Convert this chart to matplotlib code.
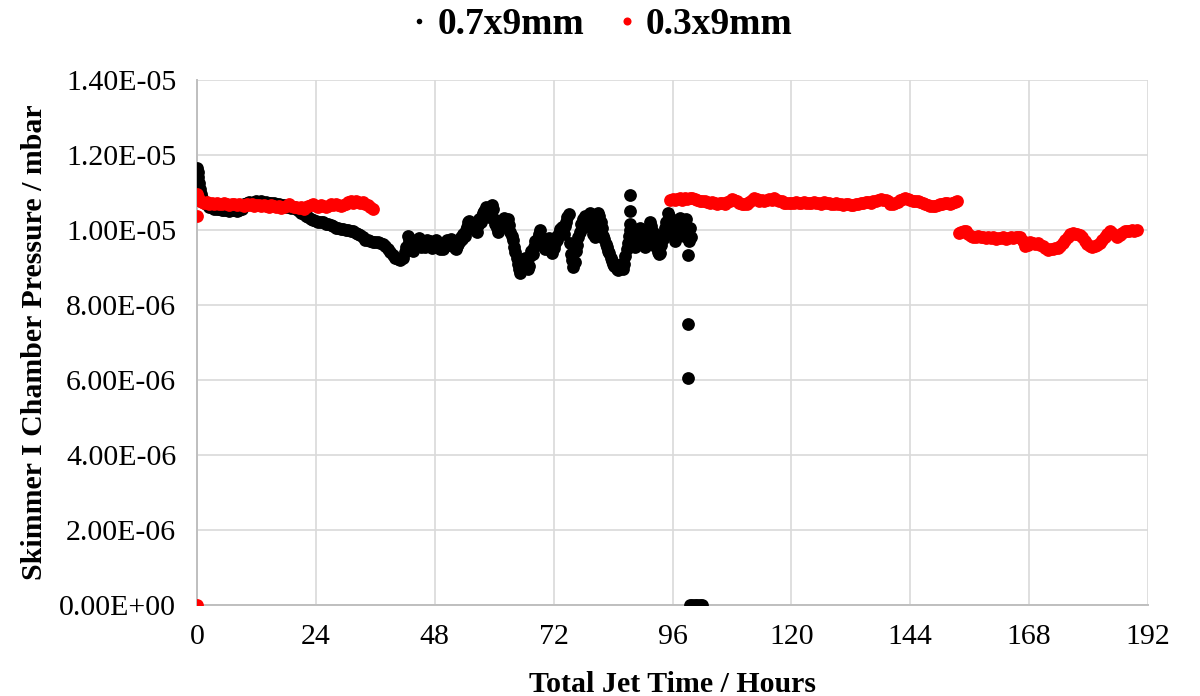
import matplotlib
matplotlib.use("Agg")
import numpy as np
import matplotlib.pyplot as plt
from matplotlib.lines import Line2D
from matplotlib.ticker import FuncFormatter

plt.rcParams["font.family"] = ["Liberation Serif", "DejaVu Serif"]

# Skimmer I chamber pressure (units of 1e-6 mbar) against total jet time (hours)
series_labels = ["0.7x9mm", "0.3x9mm"]

# ---- 0.7x9mm nozzle ----
# start-up transient
black_start_hours = [0.0, 0.1, 0.2, 0.35, 0.5, 0.7, 1.0, 1.4, 1.9, 2.5]
black_start_p = [11.65, 11.55, 11.40, 11.25, 11.10, 10.95, 10.85, 10.75, 10.68, 10.62]

# slow drift, sampled every 0.5 h from 3.0 h
black_drift_start, black_drift_step = 3.0, 0.5
black_drift_p = [
    10.60, 10.57, 10.55, 10.56, 10.53, 10.52, 10.54, 10.51, 10.52, 10.53, 10.50, 10.52, 10.56,
    10.68, 10.72, 10.75, 10.73, 10.74, 10.77, 10.74, 10.76, 10.72, 10.75, 10.73, 10.71,
    10.72, 10.70, 10.69, 10.66, 10.67, 10.62, 10.63, 10.58, 10.60, 10.55,
    10.50, 10.46, 10.42, 10.38, 10.34, 10.30, 10.27, 10.24, 10.22, 10.20,
    10.21, 10.17, 10.15, 10.12, 10.10, 10.06, 10.04, 10.02, 10.03, 10.00,
    9.99, 9.97, 9.96, 9.92, 9.90, 9.86, 9.80, 9.74, 9.72, 9.70,
    9.69, 9.67, 9.68, 9.64, 9.62, 9.58, 9.50, 9.40, 9.32, 9.25,
    9.22, 9.20, 9.24,
]

# fluctuating period, sampled every 0.25 h from 42.0 h
black_noisy_start, black_noisy_step = 42.0, 0.25
black_noisy_p = [
    9.40, 9.55, 9.85, 9.70, 9.55, 9.48, 9.45, 9.52,
    9.62, 9.72, 9.68, 9.78, 9.62, 9.55, 9.60, 9.68,
    9.55, 9.66, 9.72, 9.60, 9.70, 9.58, 9.52, 9.64,
    9.60, 9.72, 9.66, 9.58, 9.50, 9.62, 9.55, 9.48,
    9.56, 9.68, 9.72, 9.60, 9.66, 9.76, 9.70, 9.58,
    9.52, 9.50, 9.56, 9.62, 9.70, 9.80, 9.75, 9.88,
    9.85, 10.00, 10.08, 10.20, 10.25, 10.15, 10.05, 10.18,
    10.10, 9.98, 9.95, 10.12, 10.28, 10.20, 10.38, 10.45,
    10.50, 10.62, 10.55, 10.40, 10.35, 10.48, 10.67, 10.55,
    10.30, 10.15, 10.05, 9.95, 10.02, 10.15, 10.25, 10.20,
    10.32, 10.28, 10.22, 10.30, 10.12, 9.95, 9.85, 9.72,
    9.55, 9.40, 9.25, 9.10, 8.95, 8.85, 8.92, 9.05,
    9.15, 9.25, 9.10, 8.95, 9.05, 9.30, 9.45, 9.35,
    9.55, 9.70, 9.62, 9.78, 9.88, 10.00, 9.80, 9.65,
    9.55, 9.48, 9.62, 9.70, 9.78, 9.60, 9.45, 9.38,
    9.52, 9.65, 9.80, 9.72, 9.92, 10.02, 9.95, 10.08,
    9.88, 10.10, 10.20, 10.35, 10.42, 9.65, 9.35, 9.20,
    9.00, 9.15, 9.45, 9.60, 9.82, 9.95, 10.15, 10.05,
    10.30, 10.38, 10.22, 10.10, 10.35, 10.45, 10.20, 10.05,
    9.90, 9.80, 10.15, 10.30, 10.45, 10.38, 10.20, 10.05,
    9.85, 9.75, 9.62, 9.55, 9.45, 9.38, 9.25, 9.18,
    9.10, 9.05, 9.00, 8.95, 8.92, 9.00, 9.08, 8.98,
    8.95, 9.10, 9.30, 9.50, 9.65, 9.85, 10.00, 9.82,
    9.70, 9.62, 9.55, 9.68, 9.80, 9.92, 10.05, 9.90,
    9.75, 9.60, 9.55, 9.72, 9.88, 10.05, 10.22, 10.10,
    9.95, 9.82, 9.70, 9.55, 9.42, 9.35, 9.38, 9.60,
    9.75, 9.92, 10.05, 10.20, 10.45, 10.38, 10.25, 10.30,
    10.05, 9.85, 9.70, 9.90, 10.10, 10.25, 10.32, 10.15,
    9.90, 9.85, 10.20, 10.28, 9.95, 9.70, 10.05, 9.80,
]

# isolated readings: spikes, pump-down and gauge zeros
black_extra_hours = [87.4, 87.4, 87.4, 99.1, 99.1, 99.1, 99.5, 100.0, 100.5, 101.0, 101.5, 102.0]
black_extra_p = [10.93, 10.50, 10.15, 9.33, 7.50, 6.05, 0.0, 0.0, 0.0, 0.0, 0.0, 0.0]

# ---- 0.3x9mm nozzle ----
red_start_hours = [0.0, 0.0, 0.0, 0.1, 0.25]
red_start_p = [0.0, 10.38, 10.95, 10.88, 10.82]

red_run1_start, red_run1_step = 0.5, 0.5
red_run1_p = [
    10.78, 10.75, 10.72, 10.74, 10.70, 10.72, 10.69, 10.71,
    10.70, 10.68, 10.71, 10.69, 10.67, 10.70, 10.68, 10.66,
    10.69, 10.67, 10.65, 10.68, 10.66, 10.69, 10.64, 10.67,
    10.66, 10.63, 10.67, 10.65, 10.62, 10.66, 10.64, 10.61,
    10.63, 10.58, 10.62, 10.65, 10.68, 10.64, 10.60, 10.62,
    10.58, 10.61, 10.57, 10.60, 10.63, 10.66, 10.68, 10.64,
    10.62, 10.66, 10.63, 10.60, 10.65, 10.69, 10.67, 10.70,
    10.66, 10.63, 10.67, 10.70, 10.74, 10.76, 10.72, 10.78,
    10.74, 10.71, 10.75, 10.70, 10.66, 10.62, 10.57,
]

red_run2_start, red_run2_step = 95.5, 0.5
red_run2_p = [
    10.80, 10.82, 10.79, 10.83, 10.84, 10.81, 10.85, 10.83,
    10.84, 10.86, 10.82, 10.80, 10.78, 10.76, 10.77, 10.75,
    10.73, 10.75, 10.72, 10.70, 10.71, 10.73, 10.70, 10.74,
    10.78, 10.82, 10.79, 10.76, 10.72, 10.70, 10.68, 10.70,
    10.75, 10.80, 10.84, 10.82, 10.78, 10.80, 10.77, 10.79,
    10.82, 10.80, 10.84, 10.81, 10.78, 10.76, 10.73, 10.72,
    10.71, 10.73, 10.72, 10.74, 10.71, 10.73, 10.75, 10.72,
    10.73, 10.71, 10.74, 10.72, 10.73, 10.70, 10.74, 10.72,
    10.71, 10.70, 10.69, 10.71, 10.68, 10.70, 10.67, 10.69,
    10.68, 10.67, 10.66, 10.68, 10.70, 10.72, 10.71, 10.74,
    10.75, 10.73, 10.77, 10.78, 10.80, 10.82, 10.79, 10.80,
    10.76, 10.70, 10.69, 10.72, 10.75, 10.80, 10.82, 10.84,
    10.82, 10.80, 10.78, 10.76, 10.77, 10.74, 10.72, 10.70,
    10.66, 10.64, 10.65, 10.63, 10.66, 10.68, 10.70, 10.71,
    10.72, 10.70, 10.73, 10.75, 10.76,
]

red_run3_start, red_run3_step = 153.75, 0.5
red_run3_p = [
    9.92, 9.94, 9.96, 9.97, 9.90, 9.84, 9.80, 9.82,
    9.83, 9.80, 9.82, 9.79, 9.81, 9.78, 9.80, 9.77,
    9.79, 9.78, 9.80, 9.77, 9.79, 9.81, 9.78, 9.80,
    9.82, 9.80, 9.70, 9.56, 9.60, 9.69, 9.66, 9.62,
    9.64, 9.60, 9.56, 9.52, 9.47, 9.49, 9.48, 9.51,
    9.52, 9.58, 9.66, 9.74, 9.82, 9.88, 9.91, 9.90,
    9.88, 9.86, 9.80, 9.70, 9.62, 9.58, 9.55, 9.57,
    9.60, 9.66, 9.74, 9.80, 9.90, 9.96, 9.92, 9.86,
    9.82, 9.86, 9.92, 9.96, 9.97, 9.98, 9.99, 9.98,
    10.00,
]

x_ticks = [0, 24, 48, 72, 96, 120, 144, 168, 192]
y_ticks = [0.0, 2.0e-6, 4.0e-6, 6.0e-6, 8.0e-6, 1.0e-5, 1.2e-5, 1.4e-5]
series_colors = ["#000000", "#ff0000"]


def sampled(start, step, values):
    """Regularly logged readings: time of each sample."""
    return list(start + step * np.arange(len(values)))


hours_07 = (black_start_hours
            + sampled(black_drift_start, black_drift_step, black_drift_p)
            + sampled(black_noisy_start, black_noisy_step, black_noisy_p)
            + black_extra_hours)
pressure_07 = black_start_p + black_drift_p + black_noisy_p + black_extra_p

hours_03 = (red_start_hours
            + sampled(red_run1_start, red_run1_step, red_run1_p)
            + sampled(red_run2_start, red_run2_step, red_run2_p)
            + sampled(red_run3_start, red_run3_step, red_run3_p))
pressure_03 = red_start_p + red_run1_p + red_run2_p + red_run3_p

fig = plt.figure(figsize=(12, 6.96), dpi=100)
ax = fig.add_axes([0.1642, 0.1307, 0.7925, 0.7544])

ax.plot(hours_07, np.array(pressure_07) * 1e-6, linestyle="none", marker="o",
        ms=9.2, mew=0, color=series_colors[0], zorder=3)
ax.plot(hours_03, np.array(pressure_03) * 1e-6, linestyle="none", marker="o",
        ms=9.2, mew=0, color=series_colors[1], zorder=4)

ax.set_xlim(x_ticks[0], x_ticks[-1])
ax.set_ylim(y_ticks[0], y_ticks[-1])
ax.set_xticks(x_ticks)
ax.set_yticks(y_ticks)
ax.yaxis.set_major_formatter(FuncFormatter(lambda v, _: f"{v:.2E}"))

ax.grid(True, color="#d9d9d9", linewidth=1.2, zorder=0)
ax.set_axisbelow(True)
for side in ("top", "right"):
    ax.spines[side].set_visible(False)
for side in ("left", "bottom"):
    ax.spines[side].set_color("#bfbfbf")
    ax.spines[side].set_linewidth(1.4)

ax.tick_params(axis="both", length=0, labelsize=21.5)
ax.tick_params(axis="y", pad=15)
ax.tick_params(axis="x", pad=14)

ax.set_xlabel("Total Jet Time / Hours", fontsize=21.5, fontweight="bold")
ax.set_ylabel("Skimmer I Chamber Pressure / mbar", fontsize=21.5, fontweight="bold")
ax.xaxis.set_label_coords(0.5, -0.125)
ax.yaxis.set_label_coords(-0.157, 0.5)

handles = [Line2D([], [], linestyle="none", marker="o", ms=m, mew=0, color=c)
           for c, m in zip(series_colors, (4.0, 5.8))]
fig.legend(handles, series_labels, loc="center", bbox_to_anchor=(0.5, 0.965), ncol=2,
           frameon=False, prop={"size": 27, "weight": "bold"}, handlelength=0.6,
           handletextpad=0.2, columnspacing=0.85)

fig.savefig("out.png", dpi=100)
